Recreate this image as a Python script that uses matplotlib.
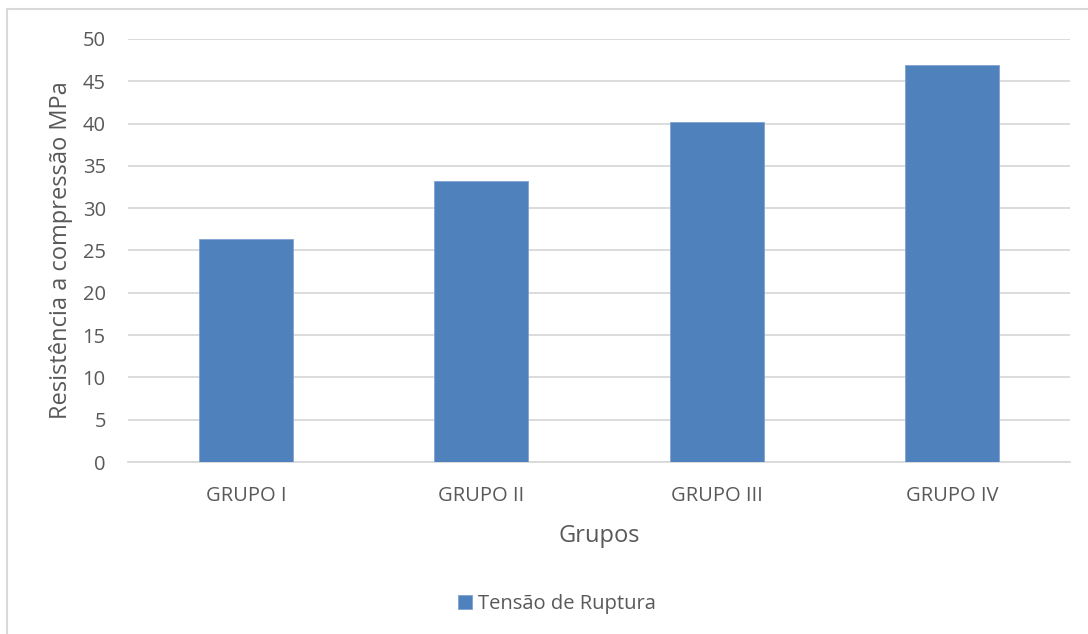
import matplotlib.pyplot as plt
from matplotlib.patches import Rectangle

grupos = ["GRUPO I", "GRUPO II", "GRUPO III", "GRUPO IV"]
tensao = [26.4, 33.2, 40.2, 46.9]
yticks = [0, 5, 10, 15, 20, 25, 30, 35, 40, 45, 50]

plt.rcParams['font.family'] = ['Open Sans', 'DejaVu Sans']
texto = "#595959"
azul = "#4F81BD"

W, H = 1088, 634
fig = plt.figure(figsize=(W / 100, H / 100), dpi=100)

# chart-area border (runs off right and bottom edges like the source)
fig.patches.append(Rectangle((7 / W, -0.1), 1.2, 1 - 9 / H + 0.1,
                             transform=fig.transFigure, fill=False,
                             edgecolor="#D9D9D9", linewidth=1.5))

ax = fig.add_axes([128 / W, 1 - 462 / H, (1070 - 128) / W, (462 - 39) / H])
x = range(len(grupos))
ax.bar(x, tensao, width=0.4, color=azul, edgecolor="#7FA3D0", linewidth=0.6,
       label="Tensão de Ruptura", zorder=3)

ax.set_xlim(-0.5, 3.5)
ax.set_ylim(0, 50)
ax.set_yticks(yticks)
ax.set_xticks(list(x))
ax.set_xticklabels(grupos)
ax.grid(axis="y", color="#D9D9D9", linewidth=1.3, zorder=0)
for s in ["top", "right", "left"]:
    ax.spines[s].set_visible(False)
ax.spines["bottom"].set_color("#D9D9D9")
ax.spines["bottom"].set_linewidth(1.3)
ax.tick_params(axis="both", length=0, colors=texto, labelsize=14.5)
ax.tick_params(axis="y", pad=16)
ax.tick_params(axis="x", pad=17.5)

ax.set_ylabel("Resistência a compressão MPa", fontsize=17, color=texto, labelpad=7)
ax.set_xlabel("Grupos", fontsize=17, color=texto, labelpad=13)

fig.legend(loc="center", bbox_to_anchor=(557 / W, 1 - 604 / H), frameon=False,
           fontsize=14.5, labelcolor=texto, handlelength=0.65, handleheight=0.65,
           handletextpad=0.3)

fig.savefig("out.png", dpi=100)
